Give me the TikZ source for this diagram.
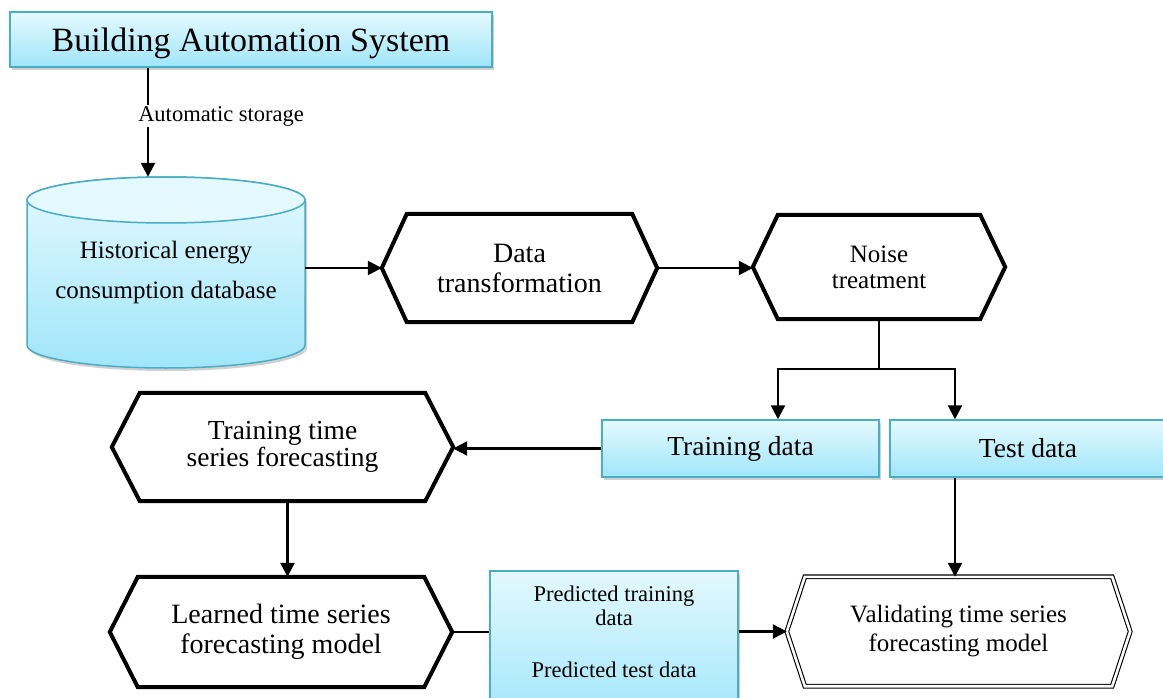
\documentclass[tikz,border=0pt]{standalone}
\usepackage{fontspec}
\setmainfont{Liberation Serif}
\usetikzlibrary{arrows.meta,shadows,calc}

\definecolor{boxedge}{RGB}{75,172,198}
\definecolor{boxtop}{RGB}{228,249,254}
\definecolor{boxbot}{RGB}{160,230,250}

\newcommand\setfs[2]{\fontsize{#1}{#2}\selectfont}

% hexagon outline around a rectangular node: #1 node, #2 inset, #3 line style
\newcommand\hexagonpath[3]{%
  \path[#3] ([xshift=#2]#1.north west) -- ([xshift=-#2]#1.north east) -- (#1.east)
    -- ([xshift=-#2]#1.south east) -- ([xshift=#2]#1.south west) -- (#1.west) -- cycle;}

\tikzset{
  boxshadow/.style={drop shadow={shadow xshift=2pt, shadow yshift=-3pt, opacity=0.3, fill=black!60}},
  databox/.style={draw=boxedge, line width=1.5pt, top color=boxtop, bottom color=boxbot,
    inner sep=0pt, align=center, boxshadow},
  hexnode/.style={inner sep=0pt, align=center},
  hexline/.style={draw=black, line width=4pt, line join=miter},
  dblline/.style={draw=black, line width=1.1pt, double=white, double distance=2.6pt, line join=miter},
  conn/.style={draw=black, line width=2.5pt},
  arr/.style={conn, -{Triangle[length=14pt,width=14pt]}},
}

\begin{document}
\begin{tikzpicture}[x=1pt,y=-1pt]
\fill[white] (0,0) rectangle (1163,698);
\useasboundingbox (0,0) rectangle (1163,698);

% source system
\node[databox, minimum width=482pt, minimum height=55pt, text depth=0pt,
      font=\setfs{34}{40}] (bas) at (251,39.5) {Building Automation System};

% database cylinder
\path[draw=boxedge, line width=1.5pt, top color=boxtop, bottom color=boxbot, boxshadow]
  (27,200) -- (27,345) arc[start angle=180, end angle=360, x radius=139pt, y radius=23pt]
  -- (305,200) arc[start angle=0, end angle=180, x radius=139pt, y radius=23pt] -- cycle;
\draw[boxedge, line width=1.5pt, fill=boxtop] (166,200) ellipse [x radius=139pt, y radius=23pt];
\node[hexnode, minimum width=278pt, minimum height=191pt, font=\setfs{25}{40}] (db)
  at (166,272.5) {Historical energy\\consumption database};

% processing steps
\node[hexnode, minimum width=275pt, minimum height=108pt, font=\setfs{28}{30}] (dt)
  at (519.5,268) {Data\\transformation};
\hexagonpath{dt}{25pt}{hexline}

\node[hexnode, minimum width=252pt, minimum height=104pt, font=\setfs{25}{26}] (nt)
  at (879,267) {Noise\\treatment};
\hexagonpath{nt}{25pt}{hexline}

% data split
\node[databox, minimum width=277pt, minimum height=57pt, font=\setfs{27.5}{30}] (trd)
  at (740.5,448.5) {Training data};
\node[databox, minimum width=276pt, minimum height=57pt, font=\setfs{27.5}{30}] (ted)
  at (1028,448.5) {Test data};

% model training
\node[hexnode, minimum width=341pt, minimum height=108pt, font=\setfs{27.5}{27}] (tt)
  at (282.5,447) {Training time\\series forecasting};
\hexagonpath{tt}{28pt}{hexline}

\node[hexnode, minimum width=342pt, minimum height=110pt, font=\setfs{28}{30}] (lm)
  at (281,632) {Learned time series\\forecasting model};
\hexagonpath{lm}{28pt}{hexline}

% predictions
\node[databox, minimum width=248pt, minimum height=150pt, anchor=north] (pred) at (614,570) {};
\node[inner sep=0pt, align=center, anchor=north, font=\setfs{22.5}{24}] (predtxt)
  at ([yshift=-15.5pt]pred.north) {Predicted training\\data\\[28pt]Predicted test data};

% validation
\node[hexnode, minimum width=343pt, minimum height=109pt, font=\setfs{25}{29}] (vm)
  at (958.5,631.5) {Validating time series\\forecasting model};
\hexagonpath{vm}{18pt}{dblline}

% connectors
\coordinate (basout) at ([xshift=-103pt]bas.south);
\draw[arr] (basout) -- node[pos=0.445, fill=white, inner sep=1pt, anchor=west, xshift=-12pt,
  font=\setfs{22.5}{24}] (lblstore) {Automatic storage} (basout |- db.north);

\draw[arr] (db.east |- dt.west) -- (dt.west);
\draw[arr] (dt.east) -- (dt.east -| nt.west);

\coordinate (split) at ([yshift=-50pt]nt.south);
\draw[conn] (nt.south) -- (split);
\draw[arr] (split) -| ([xshift=37.5pt]trd.north);
\draw[arr] (split) -| ([xshift=-73pt]ted.north);

\draw[arr] (trd.west) -- (trd.west -| tt.east);

\coordinate (ttout) at ([xshift=5pt]tt.south);
\draw[arr] (ttout) -- (ttout |- lm.north);

\draw[conn] (lm.east) -- (lm.east -| pred.west);
\draw[arr] (pred.east |- vm.west) -- (vm.west);

\coordinate (tedout) at ([xshift=-73pt]ted.south);
\draw[arr] (tedout) -- (tedout |- vm.north);
\end{tikzpicture}
\end{document}
